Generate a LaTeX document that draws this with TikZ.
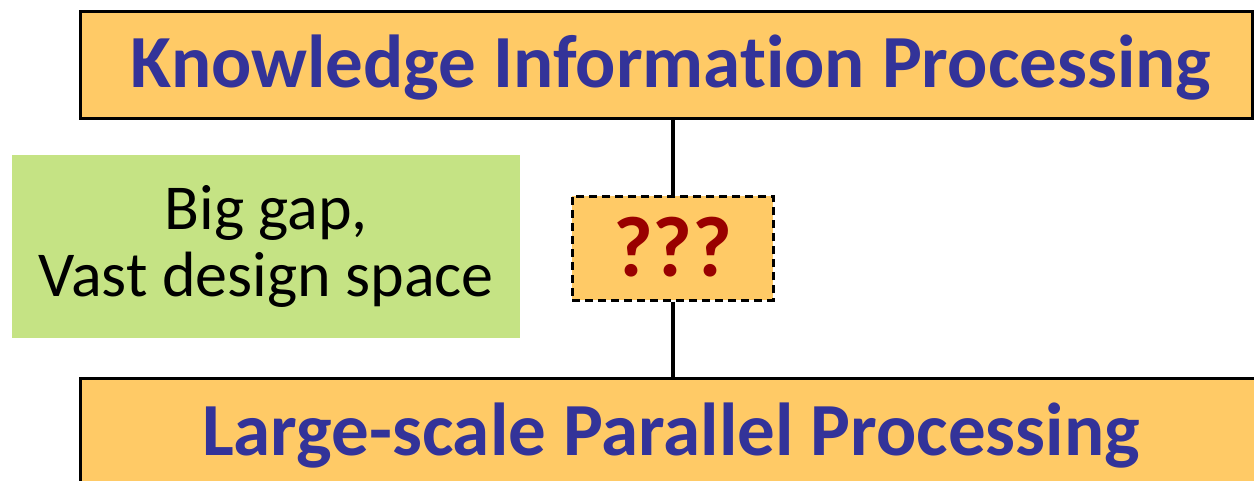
\documentclass[tikz,border=0pt]{standalone}
\usepackage{fontspec}
\setmainfont{Carlito}[Ligatures=NoCommon]
\definecolor{boxorange}{HTML}{FFCA66}
\definecolor{titleblue}{HTML}{333399}
\definecolor{gapgreen}{HTML}{C5E384}
\definecolor{qred}{HTML}{990000}
\tikzset{
  layerbox/.style={draw=black, line width=2.6pt, fill=boxorange, rectangle, inner sep=0pt},
  layertext/.style={anchor=base, inner sep=0pt, text=titleblue, font=\fontsize{75}{80}\selectfont\bfseries},
  gapbox/.style={fill=gapgreen, rectangle, inner sep=0pt, align=center,
    font=\fontsize{64}{67}\selectfont, text=black},
  qbox/.style={draw=black, line width=2.6pt, dash pattern=on 8pt off 5pt, fill=boxorange,
    rectangle, inner sep=0pt},
  qtextstyle/.style={anchor=base, inner sep=0pt, text=qred, font=\fontsize{86}{90}\selectfont\bfseries},
  link/.style={draw=black, line width=3.6pt}
}
\begin{document}
\begin{tikzpicture}[x=1pt,y=-1pt]
\useasboundingbox (0,0) rectangle (1254,481);
\clip (0,0) rectangle (1254,481);
% top layer
\node[layerbox, minimum width=1172pt, minimum height=107pt, anchor=north west] (top) at (79,10) {};
\node[layertext] (toptext) at (671,88) {Knowledge Information Processing};
% bottom layer
\node[layerbox, minimum width=1200pt, minimum height=130pt, anchor=north west] (bot) at (79,377) {};
\node[layertext] (bottext) at (671,455) {Large-scale Parallel Processing};
% green box
\node[gapbox, minimum width=508pt, minimum height=183pt, anchor=north west] (gap) at (12,155) {Big gap,\\Vast design space};
% question box
\node[qbox, minimum width=201pt, minimum height=104pt, anchor=north west] (q) at (571,195) {};
\node[qtextstyle] (qtext) at (q.center |- 0,277) {???};
% connectors
\draw[link] (q.north) -- (q.north |- top.south);
\draw[link] (q.south) -- (q.south |- bot.north);
\end{tikzpicture}
\end{document}
